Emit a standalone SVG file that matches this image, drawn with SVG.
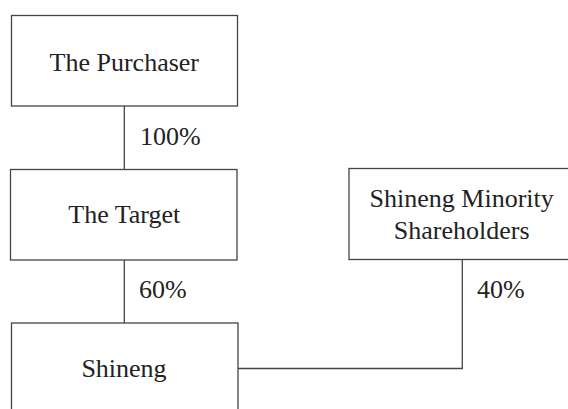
<svg xmlns="http://www.w3.org/2000/svg" width="568" height="409" viewBox="0 0 568 409">
<style>
.box{fill:#fff;stroke:#444;stroke-width:1.3}
.ln{fill:none;stroke:#444;stroke-width:1.3}
text{font-family:"Liberation Serif","Times New Roman",serif;font-size:26px;fill:#222}
.c{text-anchor:middle}
</style>
<rect width="568" height="409" fill="#fff"/>
<g id="connectors">
<line class="ln" x1="124.3" y1="106" x2="124.3" y2="169.5"/>
<line class="ln" x1="124.3" y1="260" x2="124.3" y2="323"/>
<polyline class="ln" points="462.3,259.5 462.3,368.5 238,368.5"/>
<text x="140" y="145.3">100%</text>
<text x="139" y="298.3">60%</text>
<text x="477" y="298.3">40%</text>
</g>
<g id="purchaser">
<rect class="box" x="11.5" y="15.5" width="226" height="90.5"/>
<text class="c" x="124.3" y="70.7">The Purchaser</text>
</g>
<g id="target">
<rect class="box" x="10.5" y="169.5" width="226.5" height="90.5"/>
<text class="c" x="124.3" y="223.3">The Target</text>
</g>
<g id="shineng">
<rect class="box" x="11.5" y="323" width="226.5" height="100"/>
<text class="c" x="124" y="377.3">Shineng</text>
</g>
<g id="minority">
<rect class="box" x="349" y="168.5" width="230" height="91"/>
<text class="c" x="461.7" y="206.7">Shineng Minority</text>
<text class="c" x="461.7" y="239">Shareholders</text>
</g>
</svg>
